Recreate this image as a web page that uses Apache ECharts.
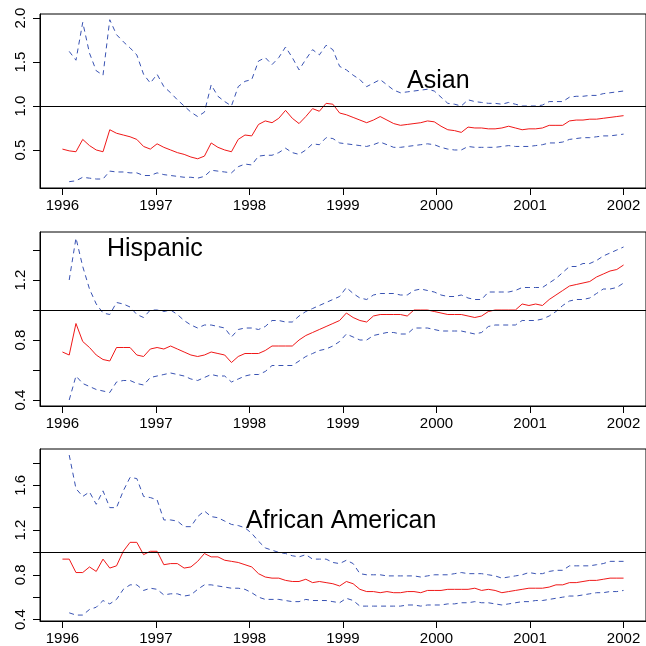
<!DOCTYPE html>
<html>
<head>
<meta charset="utf-8">
<script src="https://cdn.jsdelivr.net/npm/echarts@6/dist/echarts.min.js"></script>
<style>
  html, body { margin: 0; padding: 0; background: #fff; }
  #chart { width: 646px; height: 646px; }
</style>
</head>
<body>
<div id="chart"></div>
<script>
// Ratio estimates with lower / upper bounds, 84 periods from 1996 to 2002.
const startYear = 1996;
const endYear = 2002;
const nPeriods = 84;
const yearTicks = [1996, 1997, 1998, 1999, 2000, 2001, 2002];

const asianEst = [0.51,0.49,0.48,0.62,0.55,0.50,0.48,0.73,0.69,0.67,0.65,0.62,0.54,0.51,0.57,0.53,0.50,0.47,0.45,0.42,
  0.40,0.43,0.58,0.53,0.50,0.48,0.62,0.67,0.66,0.79,0.83,0.81,0.86,0.95,0.86,0.80,0.88,0.97,0.94,1.03,
  1.02,0.92,0.90,0.87,0.84,0.81,0.84,0.88,0.84,0.80,0.78,0.79,0.80,0.81,0.83,0.82,0.77,0.73,0.72,0.70,
  0.76,0.75,0.75,0.74,0.74,0.75,0.77,0.75,0.73,0.74,0.74,0.75,0.78,0.78,0.78,0.83,0.84,0.84,0.85,0.85,
  0.86,0.87,0.88,0.89];
const asianUpper = [null,1.62,1.52,1.95,1.60,1.40,1.35,1.98,1.81,1.73,1.66,1.58,1.36,1.26,1.36,1.22,1.15,1.07,1.00,0.93,
  0.88,0.93,1.24,1.11,1.05,1.00,1.22,1.28,1.30,1.51,1.55,1.47,1.55,1.67,1.55,1.41,1.53,1.64,1.58,1.69,
  1.64,1.45,1.41,1.35,1.30,1.22,1.26,1.30,1.24,1.18,1.15,1.16,1.17,1.18,1.19,1.17,1.10,1.03,1.02,1.00,
  1.07,1.05,1.04,1.03,1.03,1.02,1.04,1.02,1.00,1.00,1.00,1.01,1.05,1.05,1.05,1.10,1.11,1.11,1.12,1.12,
  1.14,1.15,1.16,1.17];
const asianLower = [null,0.14,0.15,0.19,0.18,0.17,0.17,0.26,0.25,0.25,0.24,0.24,0.21,0.21,0.24,0.22,0.21,0.20,0.19,0.19,
  0.18,0.20,0.27,0.26,0.25,0.24,0.31,0.34,0.33,0.43,0.44,0.44,0.47,0.52,0.47,0.45,0.50,0.57,0.56,0.64,
  0.63,0.58,0.57,0.56,0.55,0.54,0.56,0.59,0.56,0.53,0.53,0.54,0.55,0.56,0.57,0.56,0.53,0.51,0.50,0.50,
  0.54,0.53,0.53,0.53,0.53,0.54,0.55,0.54,0.54,0.54,0.55,0.56,0.58,0.58,0.59,0.62,0.63,0.64,0.64,0.65,
  0.66,0.66,0.67,0.68];

const hispEst = [0.72,0.70,0.91,0.79,0.75,0.70,0.67,0.66,0.75,0.75,0.75,0.70,0.69,0.74,0.75,0.74,0.76,0.74,0.72,0.70,
  0.69,0.70,0.72,0.71,0.70,0.65,0.69,0.71,0.71,0.71,0.73,0.76,0.76,0.76,0.76,0.80,0.83,0.85,0.87,0.89,
  0.91,0.93,0.98,0.95,0.93,0.92,0.96,0.97,0.97,0.97,0.97,0.96,1.00,1.00,1.00,0.99,0.98,0.97,0.97,0.97,
  0.96,0.95,0.96,0.99,1.00,1.00,1.00,1.00,1.04,1.03,1.04,1.03,1.07,1.10,1.13,1.16,1.17,1.18,1.19,1.22,
  1.24,1.26,1.27,1.30];
const hispUpper = [null,1.20,1.48,1.29,1.14,1.04,0.98,0.97,1.05,1.04,1.02,0.97,0.95,1.00,1.00,0.99,1.00,0.97,0.93,0.90,
  0.88,0.90,0.90,0.89,0.88,0.82,0.87,0.88,0.88,0.87,0.89,0.93,0.93,0.92,0.92,0.96,0.99,1.01,1.03,1.05,
  1.07,1.09,1.15,1.11,1.08,1.07,1.10,1.11,1.11,1.11,1.10,1.10,1.13,1.14,1.13,1.12,1.10,1.09,1.09,1.10,
  1.08,1.07,1.07,1.12,1.12,1.12,1.12,1.13,1.15,1.15,1.15,1.15,1.18,1.21,1.25,1.29,1.29,1.31,1.31,1.33,
  1.36,1.38,1.40,1.42];
const hispLower = [null,0.40,0.56,0.51,0.49,0.47,0.46,0.45,0.52,0.53,0.53,0.51,0.50,0.55,0.56,0.57,0.58,0.57,0.56,0.54,
  0.53,0.55,0.57,0.56,0.56,0.52,0.54,0.56,0.57,0.57,0.59,0.63,0.63,0.63,0.63,0.66,0.69,0.71,0.73,0.74,
  0.76,0.79,0.84,0.82,0.80,0.80,0.83,0.84,0.85,0.85,0.84,0.84,0.88,0.88,0.88,0.87,0.86,0.86,0.86,0.86,
  0.85,0.84,0.85,0.89,0.90,0.90,0.90,0.90,0.93,0.93,0.93,0.94,0.96,0.99,1.03,1.06,1.07,1.07,1.08,1.11,
  1.14,1.14,1.15,1.18];

const afamEst = [0.94,0.94,0.82,0.82,0.87,0.83,0.94,0.86,0.88,1.01,1.09,1.09,0.98,1.01,1.01,0.89,0.90,0.90,0.86,0.87,
  0.92,0.99,0.96,0.96,0.93,0.92,0.91,0.89,0.87,0.81,0.78,0.77,0.77,0.75,0.74,0.74,0.76,0.73,0.74,0.73,
  0.72,0.70,0.74,0.72,0.67,0.65,0.65,0.64,0.65,0.64,0.64,0.65,0.65,0.64,0.66,0.66,0.66,0.67,0.67,0.67,
  0.67,0.68,0.66,0.67,0.66,0.64,0.65,0.66,0.67,0.68,0.68,0.68,0.69,0.71,0.71,0.73,0.73,0.74,0.75,0.75,
  0.76,0.77,0.77,0.77];
const afamUpper = [null,1.87,1.57,1.50,1.54,1.43,1.55,1.40,1.40,1.55,1.67,1.66,1.50,1.49,1.47,1.29,1.29,1.28,1.23,1.23,
  1.32,1.37,1.32,1.31,1.28,1.25,1.24,1.22,1.17,1.10,1.04,1.02,1.00,0.99,0.97,0.96,0.98,0.94,0.94,0.94,
  0.91,0.90,0.93,0.90,0.81,0.80,0.80,0.80,0.79,0.79,0.79,0.79,0.79,0.78,0.79,0.80,0.80,0.80,0.81,0.82,
  0.81,0.81,0.81,0.80,0.79,0.77,0.78,0.79,0.80,0.82,0.81,0.81,0.83,0.84,0.84,0.88,0.88,0.88,0.88,0.89,
  0.90,0.92,0.92,0.92];
const afamLower = [null,0.46,0.44,0.44,0.49,0.51,0.57,0.54,0.58,0.67,0.71,0.71,0.66,0.68,0.67,0.62,0.63,0.63,0.61,0.62,
  0.67,0.71,0.71,0.70,0.69,0.68,0.68,0.67,0.64,0.60,0.58,0.58,0.58,0.57,0.56,0.56,0.58,0.57,0.57,0.57,
  0.56,0.55,0.59,0.57,0.52,0.52,0.52,0.52,0.52,0.52,0.52,0.53,0.53,0.52,0.53,0.53,0.53,0.54,0.54,0.55,
  0.55,0.56,0.55,0.55,0.54,0.53,0.54,0.55,0.56,0.56,0.57,0.57,0.58,0.59,0.60,0.61,0.61,0.62,0.63,0.64,
  0.64,0.65,0.65,0.66];

const panelTitles = ['Asian', 'Hispanic', 'African American'];
const yTicks = [[0.5, 1.0, 1.5, 2.0], [0.4, 0.6, 0.8, 1.0, 1.2, 1.4], [0.4, 0.6, 0.8, 1.0, 1.2, 1.4, 1.6, 1.8]];
const yLabels = [[0.5, 1.0, 1.5, 2.0], [0.4, 0.8, 1.2], [0.4, 0.8, 1.2, 1.6]];
const yRanges = [[0.068, 2.045], [0.36, 1.52], [0.387, 1.924]];

// time stamp of each period
const periodTimes = [];
for (let i = 0; i < nPeriods; i++) periodTimes.push(startYear + i * (endYear - startYear) / (nPeriods - 1));

const panels = [
  { est: asianEst, up: asianUpper, lo: asianLower },
  { est: hispEst, up: hispUpper, lo: hispLower },
  { est: afamEst, up: afamUpper, lo: afamLower }
];

const FONT = '"Liberation Sans", Arial, Helvetica, sans-serif';
const gridBoxes = [
  { top: 14, height: 174 },
  { top: 232, height: 174 },
  { top: 449, height: 173 }
];

const toPairs = arr => periodTimes.map((t, i) => [t, arr[i]]);

const grids = [], xAxes = [], yAxes = [], series = [];
gridBoxes.forEach((g, k) => {
  grids.push({
    left: 40, right: -3, top: g.top, height: g.height,
    show: true, borderColor: '#000', borderWidth: 1, backgroundColor: 'transparent'
  });
  xAxes.push({
    gridIndex: k, type: 'value', min: 1995.76, max: 2002.24,
    axisLine: { show: true, onZero: false, lineStyle: { color: '#000', width: 1 } },
    axisTick: { show: true, length: 7, customValues: yearTicks, lineStyle: { color: '#000' } },
    axisLabel: { customValues: yearTicks, margin: 10, color: '#000', fontSize: 15, fontFamily: FONT,
      formatter: v => String(Math.round(v)) },
    splitLine: { show: false }
  });
  yAxes.push({
    gridIndex: k, type: 'value', min: yRanges[k][0], max: yRanges[k][1],
    axisLine: { show: true, onZero: false, lineStyle: { color: '#000', width: 1 } },
    axisTick: { show: true, length: 7, customValues: yTicks[k], lineStyle: { color: '#000' } },
    axisLabel: { customValues: yLabels[k], rotate: 90, margin: 12, color: '#000', fontSize: 15,
      fontFamily: FONT, formatter: v => v.toFixed(1) },
    splitLine: { show: false }
  });
  const p = panels[k];
  series.push({
    type: 'line', xAxisIndex: k, yAxisIndex: k, data: toPairs(p.up), showSymbol: false,
    lineStyle: { color: '#3953b3', width: 1, type: [5, 4] }, silent: true, animation: false
  });
  series.push({
    type: 'line', xAxisIndex: k, yAxisIndex: k, data: toPairs(p.lo), showSymbol: false,
    lineStyle: { color: '#3953b3', width: 1, type: [5, 4] }, silent: true, animation: false
  });
  series.push({
    type: 'line', xAxisIndex: k, yAxisIndex: k, data: toPairs(p.est), showSymbol: false,
    lineStyle: { color: '#f01818', width: 1 }, silent: true, animation: false,
    markLine: {
      silent: true, symbol: 'none', animation: false, label: { show: false },
      lineStyle: { color: '#000', width: 1, type: 'solid' },
      data: [{ yAxis: 1 }]
    }
  });
});

const titlePos = [[407, 82], [107, 250], [246, 522]];
const graphics = panelTitles.map((t, k) => ({
  type: 'text', left: titlePos[k][0], top: titlePos[k][1] - 13, z: 10,
  style: { text: t, font: '25px ' + FONT, fill: '#000' }
}));

const chart = echarts.init(document.getElementById('chart'), null, { renderer: 'canvas' });
chart.setOption({
  animation: false,
  backgroundColor: '#fff',
  grid: grids,
  xAxis: xAxes,
  yAxis: yAxes,
  series: series,
  graphic: graphics
});
</script>
</body>
</html>
